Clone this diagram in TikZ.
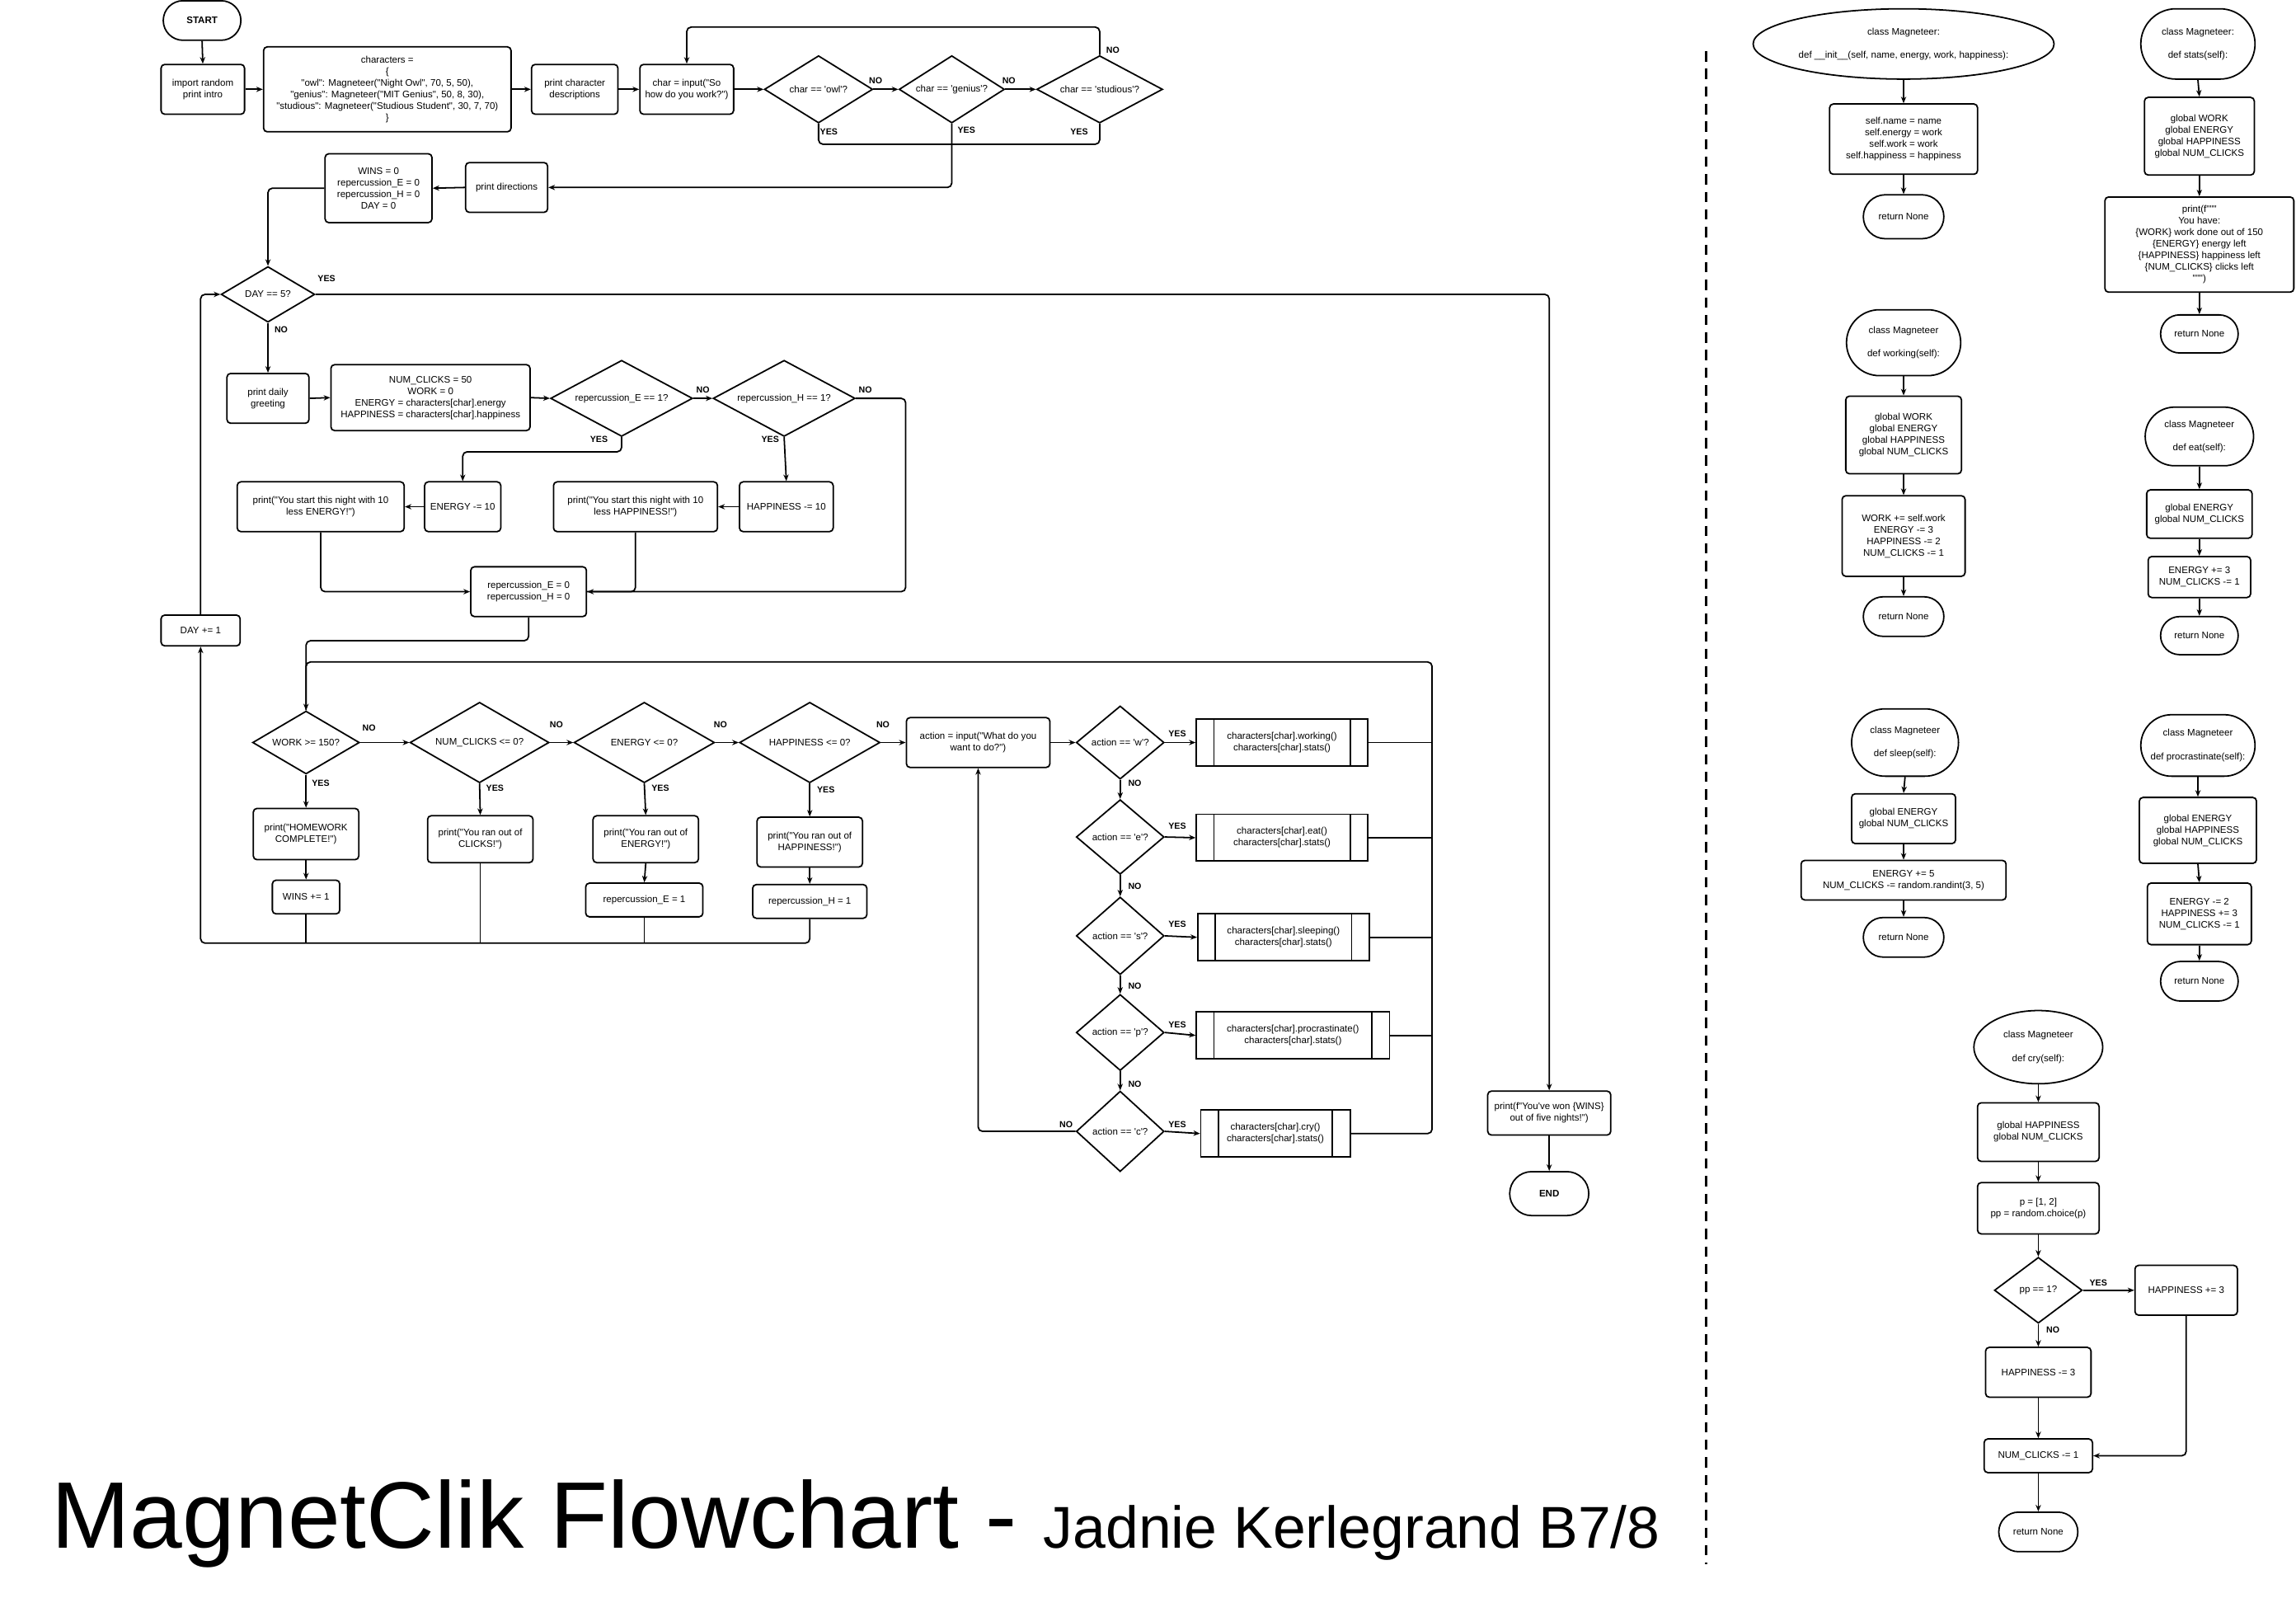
\documentclass[tikz,border=0pt]{standalone}
\usepackage{fontspec}
\setmainfont{Liberation Sans}[Ligatures=TeXOff]
\usepackage{tikz}
\usetikzlibrary{arrows.meta}
\usetikzlibrary{shapes.geometric}
\usetikzlibrary{shapes.misc}
\tikzset{base/.style = {draw, line width=1pt, align=center, inner sep=1pt,
                        font=\fontsize{6.5}{7.9}\selectfont}}
\tikzset{box/.style = {base, rounded corners=2.5pt}}
\tikzset{term/.style = {base, rounded rectangle}}
\tikzset{oval/.style = {base, ellipse}}
\tikzset{dec/.style = {base, diamond, aspect=2, inner sep=0pt}}
\tikzset{proc/.style = {base,
    path picture={\draw[line width=1pt]
      ([xshift=12pt]path picture bounding box.north west) -- ([xshift=12pt]path picture bounding box.south west)
      ([xshift=-12pt]path picture bounding box.north east) -- ([xshift=-12pt]path picture bounding box.south east);}}}
\tikzset{sz/.style 2 args = {minimum width=#1, minimum height=#2}}
\tikzset{wire/.style = {line width=1pt, rounded corners=3pt}}
\tikzset{arr/.style = {wire, -{Stealth[length=4.5pt, width=3.6pt]}}}
\tikzset{lbl/.style = {font=\bfseries\fontsize{6}{7}\selectfont, inner sep=0pt}}

\begin{document}
\begin{tikzpicture}[x=1pt, y=-1pt]
      \useasboundingbox (0,0) rectangle (1568,1091);

      % main program
      \node[term, sz={55}{27}, font=\bfseries\fontsize{6.5}{7.9}\selectfont] (start) at (138,14) {START};
      \node[box, sz={57}{34}] (intro) at (138.5,61) {import random\\print intro};
      \node[box, sz={169}{58}] (chars) at (264.5,61) {characters =\\\{\\"owl": Magneteer("Night Owl", 70, 5, 50),\\"genius": Magneteer("MIT Genius", 50, 8, 30),\\"studious": Magneteer("Studious Student", 30, 7, 70)\\\}};
      \node[box, sz={59}{34}] (descr) at (392.5,61) {print character\\descriptions};
      \node[box, sz={64}{34}] (input) at (469,61) {char = input("So\\how do you work?")};
      \node[dec, sz={74}{46}] (owl) at (559,61) {char == 'owl'?};
      \node[dec, sz={72}{46}] (genius) at (650,61) {char == 'genius'?};
      \node[dec, sz={86}{46}] (studious) at (751,61) {char == 'studious'?};

      \node[box, sz={56}{34}] (directions) at (346,128) {print directions};
      \node[box, sz={73}{47}] (init) at (258.5,128.5) {WINS = 0\\repercussion\_E = 0\\repercussion\_H = 0\\DAY = 0};
      \node[dec, sz={64}{38}] (day) at (183,201) {DAY == 5?};

      \node[box, sz={56}{34}] (greet) at (183,272) {print daily\\greeting};
      \node[box, sz={136}{45}] (reset) at (294,271.5) {NUM\_CLICKS = 50\\WORK = 0\\ENERGY = characters[char].energy\\HAPPINESS = characters[char].happiness};
      \node[dec, sz={97}{52}] (repE) at (424.5,272) {repercussion\_E == 1?};
      \node[dec, sz={97}{52}] (repH) at (535.5,272) {repercussion\_H == 1?};
      \node[box, sz={52}{34}] (lessE) at (316,346) {ENERGY -= 10};
      \node[box, sz={114}{34}] (printE) at (219,346) {print("You start this night with 10\\less ENERGY!")};
      \node[box, sz={112}{34}] (printH) at (434,346) {print("You start this night with 10\\less HAPPINESS!")};
      \node[box, sz={64}{34}] (lessH) at (537,346) {HAPPINESS -= 10};
      \node[box, sz={79}{34}] (zero) at (361,404) {repercussion\_E = 0\\repercussion\_H = 0};
      \node[box, sz={54}{21}] (dayinc) at (137,430.5) {DAY += 1};

      \node[dec, sz={73}{43}] (work) at (209,507) {WORK >= 150?};
      \node[dec, sz={95}{55}] (clicks) at (327.5,507) {NUM\_CLICKS <= 0?};
      \node[dec, sz={96}{55}] (energy) at (440,507) {ENERGY <= 0?};
      \node[dec, sz={96}{55}] (happy) at (553,507) {HAPPINESS <= 0?};
      \node[box, sz={98}{34}] (action) at (668,507) {action = input("What do you\\want to do?")};
      \node[box, sz={72}{35}] (hw) at (209,569.5) {print("HOMEWORK\\COMPLETE!")};
      \node[box, sz={46}{23}] (wins) at (209,612.5) {WINS += 1};
      \node[box, sz={72}{32}] (outC) at (328,573) {print("You ran out of\\CLICKS!")};
      \node[box, sz={72}{32}] (outE) at (441,573) {print("You ran out of\\ENERGY!")};
      \node[box, sz={80}{23}] (setE) at (440,614.5) {repercussion\_E = 1};
      \node[box, sz={72}{34}] (outH) at (553,575) {print("You ran out of\\HAPPINESS!")};
      \node[box, sz={78}{23}] (setH) at (553,615.5) {repercussion\_H = 1};

      \node[dec, sz={60}{50}] (w) at (765,507) {action == 'w'?};
      \node[dec, sz={60}{51}] (e) at (765,571.5) {action == 'e'?};
      \node[dec, sz={60}{53}] (s) at (765,639) {action == 's'?};
      \node[dec, sz={60}{52}] (p) at (765,705) {action == 'p'?};
      \node[dec, sz={60}{55}] (c) at (765,772.5) {action == 'c'?};
      \node[proc, sz={117}{32}] (working) at (875.5,507) {characters[char].working()\\characters[char].stats()};
      \node[proc, sz={117}{32}] (eat) at (875.5,572) {characters[char].eat()\\characters[char].stats()};
      \node[proc, sz={117}{32}] (sleeping) at (876.5,640) {characters[char].sleeping()\\characters[char].stats()};
      \node[proc, sz={132}{32}] (procr) at (883,707) {characters[char].procrastinate()\\characters[char].stats()};
      \node[proc, sz={102}{32}] (cry) at (871,774) {characters[char].cry()\\characters[char].stats()};

      \node[box, sz={84}{30}] (won) at (1058,760) {print(f"You've won \{WINS\}\\out of five nights!")};
      \node[term, sz={56}{30}, font=\bfseries\fontsize{6.5}{7.9}\selectfont] (end) at (1058,815) {END};

      \coordinate (rail) at (978,452);
      \coordinate (floor) at (137,644);

      \foreach \a/\b in {start/intro, work/hw, hw/wins, clicks/outC, energy/outE, outE/setE,
                         happy/outH, outH/setH, day/greet, repH/lessH, won/end,
                         w/e, e/s, s/p, p/c}
        \draw[arr] (\a.south) -- (\b.north);
      \foreach \a/\b in {intro/chars, chars/descr, descr/input, input/owl, owl/genius, genius/studious,
                         greet/reset, reset/repE, repE/repH, work/clicks, clicks/energy, energy/happy,
                         happy/action, action/w, w/working, e/eat, s/sleeping, p/procr, c/cry}
        \draw[arr] (\a.east) -- (\b.west);
      \foreach \a/\b in {directions/init, lessE/printE, lessH/printH}
        \draw[arr] (\a.west) -- (\b.east);

      \draw[arr] (studious.north) -- ++(0,-19) -| (input.north);
      \draw[wire] (owl.south) -- ++(0,14) -| (studious.south);
      \draw[arr] (genius.south) |- (directions.east);
      \draw[arr] (init.west) -| (day.north);
      \draw[arr] (day.east) -| (won.north);
      \draw[arr] (repE.south) -- ++(0,10) -| (lessE.north);
      \draw[arr] (repH.east) -- ++(34,0) |- (zero.east);
      \draw[arr] (printE.south) |- (zero.west);
      \draw[wire] (printH.south) |- (zero.east);
      \draw[arr] (zero.south) -- ++(0,16) -| (work.north);
      \draw[arr] (dayinc.north) |- (day.west);
      \draw[arr] (setH.south) |- (floor) -- (dayinc.south);
      \foreach \b in {wins, outC, setE}
        \draw[wire] (\b.south) -- (\b.south |- floor);
      \draw[arr] (c.west) -| (action.south);
      \draw[wire] (cry.east) -- (rail |- cry.east) -- (rail) -| (work.north);
      \foreach \b in {working, eat, sleeping, procr}
        \draw[wire] (\b.east) -- (rail |- \b.east);

      \foreach \n/\x/\y/\t in {owlno/598/55/NO, geniusno/689/55/NO, studno/760/34/NO,
                               owlyes/566/90/YES, geniusyes/660/89/YES, studyes/737/90/YES,
                               dayyes/223/190/YES, dayno/192/225/NO,
                               repEno/480/266/NO, repHno/591/266/NO, repEyes/409/300/YES, repHyes/526/300/YES,
                               workno/252/497/NO, clicksno/380/495/NO, energyno/492/495/NO, happyno/603/495/NO,
                               workyes/219/535/YES, clicksyes/338/538/YES, energyyes/451/538/YES, happyyes/564/539/YES,
                               wyes/804/501/YES, wno/775/535/NO, eyes/804/564/YES, eno/775/605/NO,
                               syes/804/631/YES, sno/775/673/NO, pyes/804/700/YES, pno/775/740/NO,
                               cyes/804/768/YES, cno/728/768/NO,
                               ppyes/1433/876/YES, ppno/1402/908/NO}
        \node[lbl] (\n) at (\x,\y) {\t};

      % class methods
      \node[oval, sz={204}{48}] (initcls) at (1300,30) {class Magneteer:\\[8pt]def \_\_init\_\_(self, name, energy, work, happiness):};
      \node[box, sz={101}{48}] (initbody) at (1300,95) {self.name = name\\self.energy = work\\self.work = work\\self.happiness = happiness};
      \node[term, sz={57}{30}] (initret) at (1300,148) {return None};

      \node[term, sz={80}{48}] (statscls) at (1501,30) {class Magneteer:\\[8pt]def stats(self):};
      \node[box, sz={75}{53}] (statsglob) at (1502,93) {global WORK\\global ENERGY\\global HAPPINESS\\global NUM\_CLICKS};
      \node[box, sz={129}{65}] (statsprint) at (1502,167) {print(f"""\\You have:\\\{WORK\} work done out of 150\\\{ENERGY\} energy left\\\{HAPPINESS\} happiness left\\\{NUM\_CLICKS\} clicks left\\""")};
      \node[term, sz={55}{26}] (statsret) at (1502,228) {return None};

      \node[term, sz={80}{45}] (workcls) at (1300,234) {class Magneteer\\[8pt]def working(self):};
      \node[box, sz={79}{53}] (workglob) at (1300,297) {global WORK\\global ENERGY\\global HAPPINESS\\global NUM\_CLICKS};
      \node[box, sz={84}{55}] (workbody) at (1300,366) {WORK += self.work\\ENERGY -= 3\\HAPPINESS -= 2\\NUM\_CLICKS -= 1};
      \node[term, sz={57}{27}] (workret) at (1300,421) {return None};

      \node[term, sz={76}{40}] (eatcls) at (1502,298) {class Magneteer\\[8pt]def eat(self):};
      \node[box, sz={72}{33}] (eatglob) at (1502,351) {global ENERGY\\global NUM\_CLICKS};
      \node[box, sz={70}{28}] (eatbody) at (1502,394) {ENERGY += 3\\NUM\_CLICKS -= 1};
      \node[term, sz={55}{26}] (eatret) at (1502,434) {return None};

      \node[term, sz={75}{46}] (sleepcls) at (1301,507) {class Magneteer\\[8pt]def sleep(self):};
      \node[box, sz={71}{34}] (sleepglob) at (1300,559) {global ENERGY\\global NUM\_CLICKS};
      \node[box, sz={140}{27}] (sleepbody) at (1300,601) {ENERGY += 5\\NUM\_CLICKS -= random.randint(3, 5)};
      \node[term, sz={57}{27}] (sleepret) at (1300,640) {return None};

      \node[term, sz={80}{42}] (procls) at (1501,509) {class Magneteer\\[8pt]def procrastinate(self):};
      \node[box, sz={80}{45}] (proglob) at (1501,567) {global ENERGY\\global HAPPINESS\\global NUM\_CLICKS};
      \node[box, sz={71}{42}] (probody) at (1502,624) {ENERGY -= 2\\HAPPINESS += 3\\NUM\_CLICKS -= 1};
      \node[term, sz={55}{27}] (proret) at (1502,670) {return None};

      \node[oval, sz={88}{50}] (crycls) at (1392,715) {class Magneteer\\[8pt]def cry(self):};
      \node[box, sz={83}{40}] (cryglob) at (1392,773) {global HAPPINESS\\global NUM\_CLICKS};
      \node[box, sz={83}{35}] (crychoice) at (1392,825) {p = [1, 2]\\pp = random.choice(p)};
      \node[dec, sz={60}{45}] (pp) at (1392,881) {pp == 1?};
      \node[box, sz={70}{34}] (crypos) at (1493,881) {HAPPINESS += 3};
      \node[box, sz={72}{34}] (cryneg) at (1392,937) {HAPPINESS -= 3};
      \node[box, sz={74}{23}] (crydec) at (1392,994) {NUM\_CLICKS -= 1};
      \node[term, sz={56}{27}] (cryret) at (1392,1046) {return None};

      \foreach \a/\b in {initcls/initbody, initbody/initret, statscls/statsglob, statsglob/statsprint,
                         statsprint/statsret, workcls/workglob, workglob/workbody, workbody/workret,
                         eatcls/eatglob, eatglob/eatbody, eatbody/eatret, sleepcls/sleepglob,
                         sleepglob/sleepbody, sleepbody/sleepret, procls/proglob, proglob/probody,
                         probody/proret, crycls/cryglob, cryglob/crychoice, crychoice/pp,
                         pp/cryneg, cryneg/crydec, crydec/cryret}
        \draw[arr] (\a.south) -- (\b.north);
      \draw[arr] (pp.east) -- (crypos.west);
      \draw[arr] (crypos.south) |- (crydec.east);

      \draw[line width=1.6pt, dash pattern=on 7pt off 5pt] (1165,35) -- (1165,1068);

      \node[anchor=base west, inner sep=0pt] (title) at (35,1057)
        {\fontsize{64.5}{70}\selectfont MagnetClik Flowchart - \fontsize{40.3}{44}\selectfont Jadnie Kerlegrand B7/8};
\end{tikzpicture}
\end{document}
